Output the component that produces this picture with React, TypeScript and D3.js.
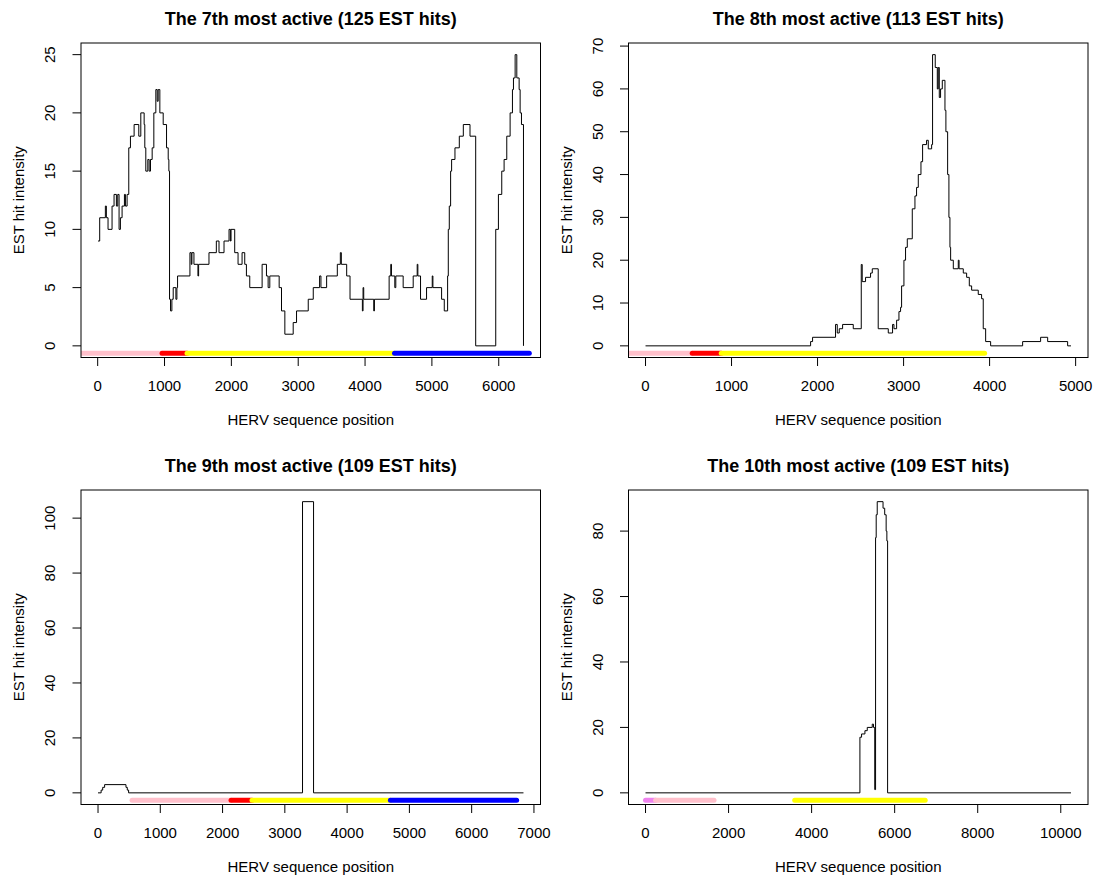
import React from "react";
import * as d3 from "d3";

type Pt = [number, number];
type Region = { from: number; to: number; kind: string };

// EST hit intensity profiles, [position, hits] steps
const est7: Pt[] = [
  [5, 9], [30, 11], [115, 12], [130, 11], [155, 10], [215, 12], [245, 13], [280, 12],
  [300, 13], [320, 10], [340, 11], [365, 12], [400, 13], [415, 12], [440, 13], [465, 17],
  [490, 18], [545, 19], [615, 18], [645, 20], [695, 19], [705, 17], [720, 15], [750, 16],
  [770, 15], [790, 16], [815, 17], [840, 20], [870, 22], [890, 21], [905, 22], [930, 20],
  [980, 19], [1030, 17], [1055, 16], [1065, 15], [1075, 4], [1090, 3], [1110, 4], [1130, 5],
  [1170, 4], [1185, 5], [1195, 6], [1380, 8], [1400, 7], [1410, 8], [1440, 7], [1500, 6],
  [1510, 7], [1665, 8], [1775, 9], [1815, 8], [1890, 9], [1965, 10], [1985, 9], [1995, 10],
  [2050, 8], [2100, 7], [2160, 8], [2200, 7], [2225, 6], [2275, 5], [2460, 7], [2525, 6],
  [2550, 5], [2575, 6], [2715, 5], [2750, 3], [2800, 1], [2925, 2], [2975, 3], [3150, 4],
  [3225, 5], [3320, 6], [3340, 5], [3425, 6], [3585, 7], [3630, 8], [3645, 7], [3725, 6],
  [3775, 4], [3960, 3], [3970, 5], [3980, 4], [4130, 3], [4140, 4], [4360, 6], [4385, 7],
  [4395, 6], [4445, 5], [4460, 6], [4570, 5], [4720, 6], [4780, 7], [4790, 6], [4830, 4],
  [4920, 5], [5005, 6], [5015, 5], [5145, 4], [5185, 3], [5235, 6], [5245, 10], [5260, 12],
  [5280, 15], [5295, 16], [5345, 17], [5410, 18], [5470, 19], [5570, 18], [5655, 0],
  [5955, 10], [5995, 13], [6045, 15], [6080, 16], [6120, 18], [6170, 20], [6205, 22],
  [6220, 23], [6245, 25], [6270, 23], [6305, 22], [6320, 20], [6340, 19], [6370, 0],
];

const est8: Pt[] = [
  [0, 0], [1919, 1], [1942, 2], [2209, 5], [2229, 3], [2252, 4], [2291, 5], [2415, 4],
  [2508, 19], [2519, 15], [2558, 16], [2616, 17], [2636, 18], [2705, 4], [2822, 3],
  [2872, 5], [2888, 4], [2919, 6], [2946, 8], [2965, 9], [2977, 14], [3004, 20], [3023, 23],
  [3043, 25], [3101, 32], [3132, 35], [3151, 37], [3171, 40], [3202, 43], [3221, 47],
  [3267, 48], [3287, 46], [3326, 47], [3337, 68], [3368, 65], [3392, 60], [3403, 65],
  [3415, 58], [3430, 60], [3450, 62], [3481, 55], [3492, 50], [3512, 40], [3527, 30],
  [3539, 23], [3547, 20], [3578, 18], [3636, 20], [3645, 18], [3694, 17], [3733, 16],
  [3764, 14], [3791, 13], [3868, 12], [3907, 11], [3926, 4], [3954, 1], [4012, 0],
  [4384, 1], [4593, 2], [4675, 1], [4907, 0], [4946, 0],
];

const est9: Pt[] = [
  [0, 0], [50, 1], [75, 2], [106, 3], [449, 2], [470, 1], [491, 0], [3284, 106],
  [3461, 0], [6832, 0],
];

const est10: Pt[] = [
  [0, 0], [5163, 17], [5203, 18], [5284, 19], [5340, 20], [5460, 21], [5490, 20],
  [5520, 1], [5540, 78], [5555, 85], [5580, 89], [5720, 87], [5760, 85], [5795, 80],
  [5812, 77], [5830, 0], [10246, 0],
];

// annotated HERV regions along the sequence
const regions7: Region[] = [
  { from: -400, to: 963, kind: "pink" },
  { from: 963, to: 1337, kind: "red" },
  { from: 1337, to: 4441, kind: "yellow" },
  { from: 4441, to: 6457, kind: "blue" },
];
const regions8: Region[] = [
  { from: -400, to: 543, kind: "pink" },
  { from: 543, to: 880, kind: "red" },
  { from: 880, to: 3942, kind: "yellow" },
];
const regions9: Region[] = [
  { from: 547, to: 2136, kind: "pink" },
  { from: 2136, to: 2473, kind: "red" },
  { from: 2473, to: 4695, kind: "yellow" },
  { from: 4695, to: 6722, kind: "blue" },
];
const regions10: Region[] = [
  { from: 0, to: 243, kind: "violet" },
  { from: 243, to: 1650, kind: "pink" },
  { from: 3593, to: 6735, kind: "yellow" },
];

const xTicks7 = [0, 1000, 2000, 3000, 4000, 5000, 6000];
const yTicks7 = [0, 5, 10, 15, 20, 25];
const xTicks8 = [0, 1000, 2000, 3000, 4000, 5000];
const yTicks8 = [0, 10, 20, 30, 40, 50, 60, 70];
const xTicks9 = [0, 1000, 2000, 3000, 4000, 5000, 6000, 7000];
const yTicks9 = [0, 20, 40, 60, 80, 100];
const xTicks10 = [0, 2000, 4000, 6000, 8000, 10000];
const yTicks10 = [0, 20, 40, 60, 80];

const titles = [
  "The 7th most active (125 EST hits)",
  "The 8th most active (113 EST hits)",
  "The 9th most active (109 EST hits)",
  "The 10th most active (109 EST hits)",
];

const REGION_COLORS: Record<string, string> = {
  pink: "#FFC0CB",
  red: "#FF0000",
  yellow: "#FFFF00",
  blue: "#0000FF",
  violet: "#EE82EE",
};

const FONT = "'Liberation Sans', Arial, Helvetica, sans-serif";

type PanelProps = {
  id: string;
  title: string;
  data: Pt[];
  regions: Region[];
  xTicks: number[];
  yTicks: number[];
  left: number;
  top: number;
};

function Panel({ id, title, data, regions, xTicks, yTicks, left, top }: PanelProps) {
  const w = 459.5, h = 314.5;
  const [x0, x1] = d3.extent(data, d => d[0]) as [number, number];
  const xPad = (x1 - x0) * 0.04;
  const yMax = d3.max(data, d => d[1]) || 1;
  const x = d3.scaleLinear().domain([x0 - xPad, x1 + xPad]).range([left, left + w]);
  const y = d3.scaleLinear().domain([-yMax * 0.04, yMax * 1.04]).range([top + h, top]);
  const line = d3.line<Pt>().x(d => x(d[0])).y(d => y(d[1])).curve(d3.curveStepAfter);
  const barY = y(-yMax * 0.025);
  const bottom = top + h;

  return (
    <g fontFamily={FONT}>
      <defs>
        <clipPath id={id}>
          <rect x={left} y={top} width={w} height={h} />
        </clipPath>
      </defs>
      <g clipPath={`url(#${id})`}>
        {regions.map((r, i) => (
          <line key={i} x1={x(r.from)} x2={x(r.to)} y1={barY} y2={barY}
            stroke={REGION_COLORS[r.kind]} strokeWidth={5} strokeLinecap="round" />
        ))}
        <path d={line(data) || ""} fill="none" stroke="#000" strokeWidth={1} />
      </g>
      <rect x={left} y={top} width={w} height={h} fill="none" stroke="#000" strokeWidth={1} />
      {xTicks.map(t => (
        <g key={t}>
          <line x1={x(t)} x2={x(t)} y1={bottom} y2={bottom + 8.5} stroke="#000" />
          <text x={x(t)} y={bottom + 33} textAnchor="middle" fontSize={15}>{t}</text>
        </g>
      ))}
      {yTicks.map(t => (
        <g key={t}>
          <line x1={left - 8.5} x2={left} y1={y(t)} y2={y(t)} stroke="#000" />
          <text transform={`translate(${left - 26},${y(t)}) rotate(-90)`} textAnchor="middle" fontSize={15}>{t}</text>
        </g>
      ))}
      <text x={left + w / 2} y={top - 18} textAnchor="middle" fontSize={18} fontWeight="bold">{title}</text>
      <text x={left + w / 2} y={bottom + 67.5} textAnchor="middle" fontSize={15}>HERV sequence position</text>
      <text transform={`translate(${left - 57},${top + h / 2}) rotate(-90)`} textAnchor="middle" fontSize={15}>EST hit intensity</text>
    </g>
  );
}

export default function App() {
  const colX = [81, 628.5];
  const rowY = [43, 490];
  return (
    <svg width={1095} height={880} style={{ position: "absolute", left: 0, top: 0, background: "#fff" }}>
      <rect width={1095} height={880} fill="#fff" />
      <Panel id="p7" title={titles[0]} data={est7} regions={regions7} xTicks={xTicks7} yTicks={yTicks7} left={colX[0]} top={rowY[0]} />
      <Panel id="p8" title={titles[1]} data={est8} regions={regions8} xTicks={xTicks8} yTicks={yTicks8} left={colX[1]} top={rowY[0]} />
      <Panel id="p9" title={titles[2]} data={est9} regions={regions9} xTicks={xTicks9} yTicks={yTicks9} left={colX[0]} top={rowY[1]} />
      <Panel id="p10" title={titles[3]} data={est10} regions={regions10} xTicks={xTicks10} yTicks={yTicks10} left={colX[1]} top={rowY[1]} />
    </svg>
  );
}
